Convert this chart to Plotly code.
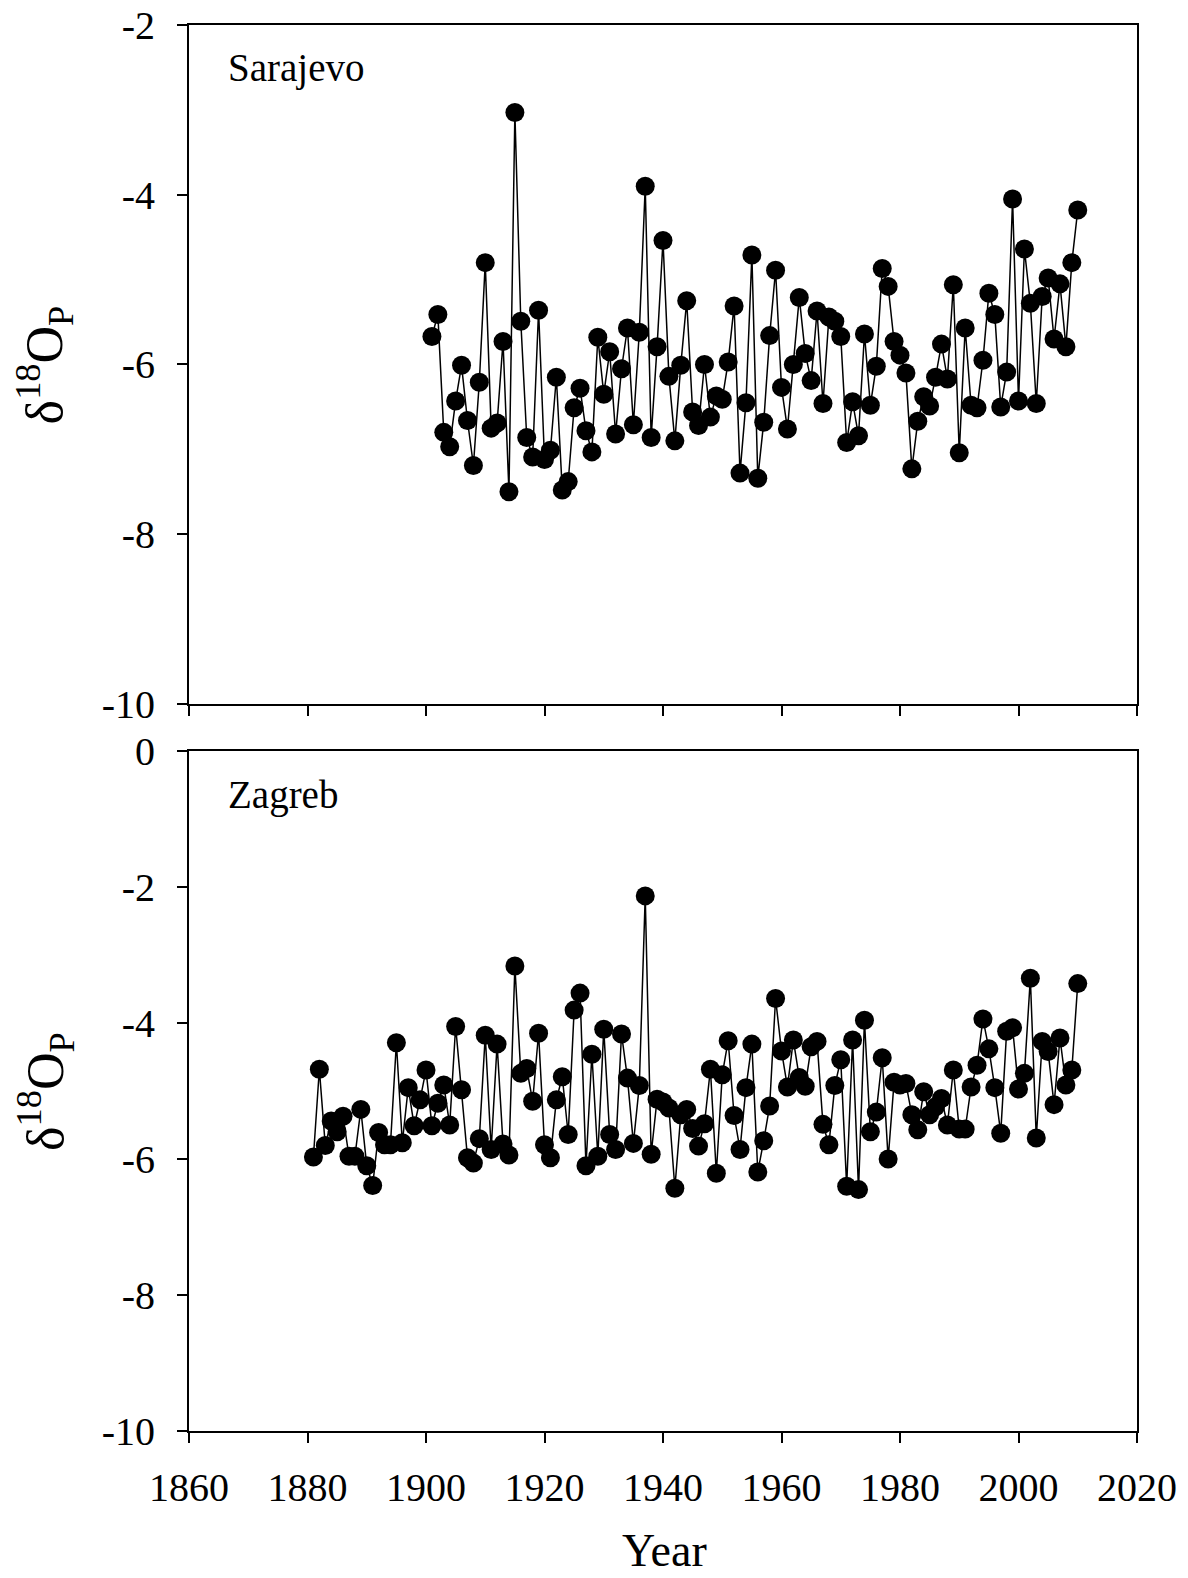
import plotly.graph_objects as go
from plotly.subplots import make_subplots

# Sarajevo, 1901-2010
sarajevo_years = list(range(1901, 2011))
sarajevo_d18o = [
    -5.67, -5.41, -6.80, -6.97, -6.43, -6.01, -6.66, -7.19, -6.21, -4.80,
    -6.75, -6.69, -5.73, -7.50, -3.03, -5.49, -6.86, -7.09, -5.36, -7.12,
    -7.01, -6.15, -7.48, -7.38, -6.51, -6.28, -6.78, -7.03, -5.68, -6.35,
    -5.85, -6.82, -6.05, -5.57, -6.71, -5.62, -3.90, -6.86, -5.79, -4.54,
    -6.14, -6.90, -6.01, -5.25, -6.56, -6.72, -6.00, -6.62, -6.37, -6.41,
    -5.97, -5.31, -7.28, -6.45, -4.71, -7.34, -6.68, -5.66, -4.89, -6.27,
    -6.76, -6.00, -5.21, -5.87, -6.19, -5.37, -6.46, -5.44, -5.49, -5.67,
    -6.92, -6.44, -6.84, -5.64, -6.48, -6.02, -4.87, -5.08, -5.73, -5.89,
    -6.10, -7.23, -6.67, -6.38, -6.49, -6.15, -5.76, -6.17, -5.06, -7.04,
    -5.57, -6.48, -6.51, -5.95, -5.16, -5.41, -6.50, -6.09, -4.05, -6.43,
    -4.64, -5.28, -6.46, -5.20, -4.98, -5.70, -5.05, -5.79, -4.80, -4.18,
]

# Zagreb, 1881-2010
zagreb_years = list(range(1881, 2011))
zagreb_d18o = [
    -5.97, -4.68, -5.80, -5.44, -5.60, -5.37, -5.96, -5.96, -5.27, -6.10,
    -6.39, -5.61, -5.79, -5.79, -4.29, -5.76, -4.95, -5.51, -5.13, -4.69,
    -5.51, -5.18, -4.91, -5.50, -4.05, -4.98, -5.98, -6.06, -5.70, -4.18,
    -5.86, -4.31, -5.78, -5.94, -3.16, -4.74, -4.67, -5.15, -4.15, -5.79,
    -5.98, -5.13, -4.79, -5.64, -3.81, -3.56, -6.10, -4.46, -5.96, -4.09,
    -5.64, -5.86, -4.16, -4.81, -5.77, -4.92, -2.13, -5.93, -5.12, -5.16,
    -5.25, -6.43, -5.35, -5.27, -5.55, -5.81, -5.48, -4.68, -6.21, -4.76,
    -4.26, -5.36, -5.86, -4.95, -4.31, -6.19, -5.73, -5.22, -3.64, -4.41,
    -4.94, -4.25, -4.80, -4.93, -4.35, -4.27, -5.49, -5.79, -4.92, -4.54,
    -6.40, -4.25, -6.45, -3.96, -5.60, -5.31, -4.51, -6.00, -4.87, -4.91,
    -4.89, -5.35, -5.57, -5.01, -5.35, -5.23, -5.11, -5.50, -4.69, -5.56,
    -5.56, -4.94, -4.62, -3.94, -4.38, -4.95, -5.62, -4.12, -4.07, -4.97,
    -4.74, -3.34, -5.69, -4.27, -4.42, -5.20, -4.22, -4.91, -4.69, -3.42,
]

x_ticks = [1860, 1880, 1900, 1920, 1940, 1960, 1980, 2000, 2020]
top_y_ticks = [-2, -4, -6, -8, -10]
bottom_y_ticks = [0, -2, -4, -6, -8, -10]

FONT = "Liberation Serif"

fig = make_subplots(rows=2, cols=1)

for row, (years, vals) in enumerate([(sarajevo_years, sarajevo_d18o),
                                     (zagreb_years, zagreb_d18o)], start=1):
    fig.add_trace(
        go.Scatter(
            x=years, y=vals, mode="lines+markers",
            line=dict(color="black", width=1.5),
            marker=dict(color="black", size=19),
            showlegend=False,
            cliponaxis=False,
        ),
        row=row, col=1,
    )

axis_common = dict(
    showline=True, linecolor="black", linewidth=2, mirror=True,
    ticks="outside", ticklen=10, tickwidth=2, tickcolor="black",
    showgrid=False, zeroline=False, automargin=False,
    ticklabeloverflow="allow",
    tickfont=dict(family=FONT, size=40, color="black"),
)

fig.update_xaxes(range=[1860, 2020], tickvals=x_ticks, **axis_common)
fig.update_xaxes(showticklabels=False, row=1, col=1)
fig.update_xaxes(ticktext=[str(t) for t in x_ticks], ticklabelstandoff=10,
                 row=2, col=1)

fig.update_yaxes(range=[-10, -2], tickvals=top_y_ticks,
                 ticktext=[str(t) for t in top_y_ticks], ticklabelstandoff=14,
                 row=1, col=1, **axis_common)
fig.update_yaxes(range=[-10, 0], tickvals=bottom_y_ticks,
                 ticktext=[str(t) for t in bottom_y_ticks], ticklabelstandoff=14,
                 row=2, col=1, **axis_common)

# page body adds an 8px offset, so the figure is sized to fit the window
fig.update_layout(
    width=1180, height=1570,
    margin=dict(l=181, r=51, t=17, b=147),
    paper_bgcolor="white", plot_bgcolor="white",
    yaxis=dict(domain=[0.5171, 1.0]),
    yaxis2=dict(domain=[0.0, 0.4836]),
)

# axis titles
ytitle = "δ<sup>18</sup>O<sub>P</sub>"
for yref in ["y domain", "y2 domain"]:
    fig.add_annotation(text=ytitle, xref="paper", yref=yref,
                       x=-0.152, y=0.5, xanchor="center", yanchor="middle",
                       textangle=-90, showarrow=False,
                       font=dict(family=FONT, size=52, color="black"))
fig.add_annotation(text="Year", xref="paper", yref="paper",
                   x=0.5016, y=-0.085, xanchor="center", yanchor="middle",
                   showarrow=False, font=dict(family=FONT, size=46, color="black"))

# station labels
fig.add_annotation(text="Sarajevo", xref="x domain", yref="y domain",
                   x=0.039, y=0.937, xanchor="left", yanchor="middle",
                   showarrow=False, font=dict(family=FONT, size=39, color="black"))
fig.add_annotation(text="Zagreb", xref="x2 domain", yref="y2 domain",
                   x=0.039, y=0.935, xanchor="left", yanchor="middle",
                   showarrow=False, font=dict(family=FONT, size=39, color="black"))

fig.write_html("out.html")
